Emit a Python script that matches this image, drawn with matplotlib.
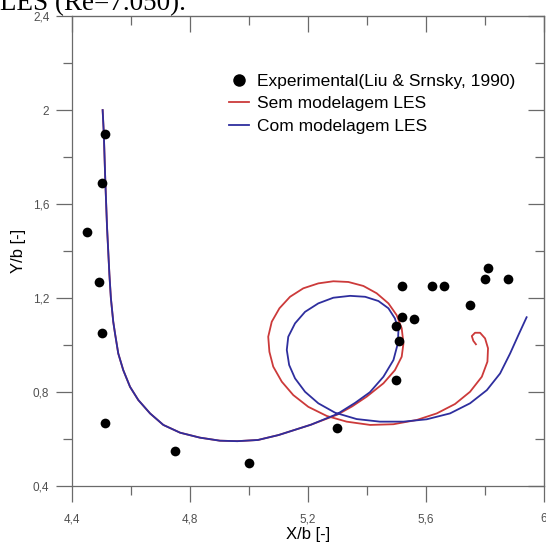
import matplotlib.pyplot as plt
from matplotlib.lines import Line2D
from matplotlib.ticker import MultipleLocator

plt.rcParams['font.family'] = ['Liberation Sans', 'DejaVu Sans']

# experimental points (Liu & Srnsky, 1990)
exp_x = [4.51, 4.50, 4.45, 4.49, 4.50, 4.51, 4.75, 5.00, 5.30,
         5.52, 5.62, 5.66, 5.81, 5.80, 5.88, 5.75, 5.52, 5.56, 5.50, 5.51, 5.50]
exp_y = [1.90, 1.69, 1.48, 1.27, 1.05, 0.67, 0.55, 0.50, 0.65,
         1.25, 1.25, 1.25, 1.33, 1.28, 1.28, 1.17, 1.12, 1.11, 1.08, 1.02, 0.85]

# com modelagem LES (blue)
les_x = [4.503, 4.507, 4.512, 4.518, 4.526, 4.531, 4.539, 4.545, 4.556, 4.573,
         4.596, 4.624, 4.664, 4.709, 4.766, 4.833, 4.901, 4.960, 5.030, 5.100,
         5.210, 5.300, 5.360, 5.410, 5.456, 5.490, 5.505, 5.507, 5.495, 5.473,
         5.439, 5.394, 5.343, 5.286, 5.235, 5.190, 5.156, 5.133, 5.128, 5.136,
         5.156, 5.190, 5.235, 5.292, 5.365, 5.444, 5.524, 5.603, 5.682, 5.750,
         5.807, 5.852, 5.886, 5.914, 5.942]
les_y = [2.000, 1.900, 1.700, 1.500, 1.300, 1.200, 1.100, 1.050, 0.965, 0.894,
         0.823, 0.767, 0.710, 0.661, 0.628, 0.607, 0.594, 0.592, 0.597, 0.618,
         0.662, 0.708, 0.755, 0.800, 0.866, 0.937, 1.008, 1.065, 1.114, 1.157,
         1.188, 1.206, 1.210, 1.202, 1.178, 1.142, 1.093, 1.036, 0.980, 0.916,
         0.859, 0.802, 0.753, 0.713, 0.686, 0.675, 0.675, 0.685, 0.710, 0.753,
         0.809, 0.880, 0.965, 1.043, 1.119]

# sem modelagem LES (red)
sem_x = [4.503, 4.507, 4.512, 4.518, 4.526, 4.531, 4.539, 4.545, 4.556, 4.573,
         4.596, 4.624, 4.664, 4.709, 4.766, 4.833, 4.901, 4.960, 5.030, 5.100,
         5.210, 5.300, 5.350, 5.399, 5.456, 5.495, 5.518, 5.524, 5.518, 5.501,
         5.473, 5.433, 5.388, 5.337, 5.286, 5.235, 5.184, 5.139, 5.103, 5.077,
         5.065, 5.069, 5.082, 5.111, 5.150, 5.201, 5.264, 5.331, 5.411, 5.490,
         5.569, 5.637, 5.699, 5.750, 5.790, 5.809, 5.811, 5.801, 5.784, 5.767,
         5.756, 5.761, 5.770]
sem_y = [2.000, 1.900, 1.700, 1.500, 1.300, 1.200, 1.100, 1.050, 0.965, 0.894,
         0.823, 0.767, 0.710, 0.661, 0.628, 0.607, 0.594, 0.592, 0.597, 0.618,
         0.662, 0.705, 0.740, 0.781, 0.838, 0.894, 0.951, 1.008, 1.072, 1.128,
         1.178, 1.221, 1.252, 1.269, 1.272, 1.263, 1.242, 1.206, 1.157, 1.100,
         1.036, 0.972, 0.909, 0.845, 0.788, 0.738, 0.699, 0.675, 0.661, 0.664,
         0.682, 0.710, 0.750, 0.802, 0.866, 0.930, 0.987, 1.029, 1.053, 1.053,
         1.039, 1.019, 1.004]

x_ticks = [4.4, 4.8, 5.2, 5.6, 6.0]
x_labels = ['4,4', '4,8', '5,2', '5,6', '6']
y_ticks = [0.4, 0.8, 1.2, 1.6, 2.0, 2.4]
y_labels = ['0,4', '0,8', '1,2', '1,6', '2', '2,4']

RED = '#cc3a3a'
BLUE = '#2e2e9e'
GRAY = '#6a6a6a'

fig = plt.figure(figsize=(5.46, 5.43), dpi=100)
ax = fig.add_axes([0.1324, 0.1044, 0.8634, 0.8661])

ax.plot(sem_x, sem_y, color=RED, lw=1.3)
ax.plot(les_x, les_y, color=BLUE, lw=1.3)
ax.plot(exp_x, exp_y, 'o', color='black', ms=7, mec='none')

ax.set_xlim(4.4, 6.0)
ax.set_ylim(0.4, 2.4)
ax.set_xticks(x_ticks)
ax.set_xticklabels(x_labels)
ax.set_yticks(y_ticks)
ax.set_yticklabels(y_labels)
ax.xaxis.set_minor_locator(MultipleLocator(0.2))
ax.yaxis.set_minor_locator(MultipleLocator(0.2))
ax.tick_params(which='both', direction='out', color=GRAY, labelcolor='#505050',
               labelsize=8.5, width=0.9)
ax.tick_params(which='major', length=11.5)
ax.tick_params(which='minor', length=6.5)
ax.tick_params(axis='x', pad=8)
ax.tick_params(axis='y', pad=5)
for sp in ax.spines.values():
    sp.set_color(GRAY)
    sp.set_linewidth(0.9)

# inward ticks on top and right
top = ax.secondary_xaxis('top')
top.set_xticks(x_ticks)
top.xaxis.set_minor_locator(MultipleLocator(0.2))
top.tick_params(which='both', direction='in', color=GRAY, labeltop=False, width=0.9)
top.tick_params(which='major', length=11.5)
top.tick_params(which='minor', length=6.5)
top.spines['top'].set_color(GRAY)
right = ax.secondary_yaxis('right')
right.set_yticks(y_ticks)
right.yaxis.set_minor_locator(MultipleLocator(0.2))
right.tick_params(which='both', direction='in', color=GRAY, labelright=False, width=0.9)
right.tick_params(which='major', length=11.5)
right.tick_params(which='minor', length=6.5)
right.spines['right'].set_color(GRAY)

ax.set_xlabel('X/b [-]', fontsize=12, labelpad=1)
ax.set_ylabel('Y/b [-]', fontsize=12, labelpad=5)

handles = [
    Line2D([], [], ls='none', marker='o', color='black', ms=9, mec='none'),
    Line2D([], [], color=RED, lw=1.3),
    Line2D([], [], color=BLUE, lw=1.3),
]
labels = ['Experimental(Liu & Srnsky, 1990)', 'Sem modelagem LES', 'Com modelagem LES']
ax.legend(handles, labels, loc='upper left', bbox_to_anchor=(0.332, 0.877),
          frameon=False, fontsize=12.5, handlelength=1.15, handletextpad=0.45,
          labelspacing=0.42, borderpad=0, borderaxespad=0)

fig.text(0.0, 0.982, 'LES (Re=7.050).', family='Liberation Serif', fontsize=19.5,
         ha='left', va='baseline')

fig.savefig('out.png', dpi=100)
